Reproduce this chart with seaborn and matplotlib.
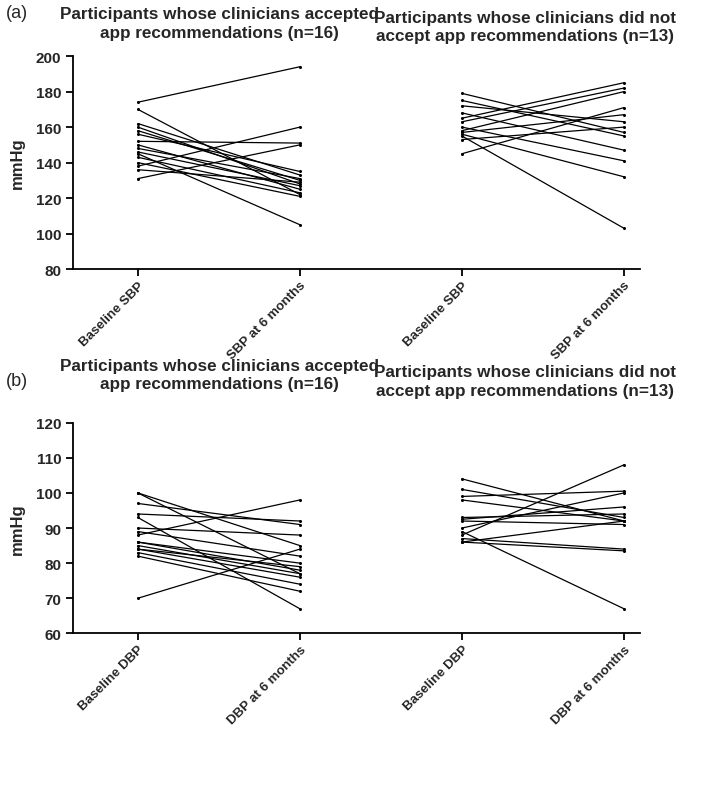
import pandas as pd
import seaborn as sns
import matplotlib.pyplot as plt

# SBP, clinicians accepted app recommendations (n=16)
sbp_acc_base = [174, 170, 131, 138, 145, 162, 160, 158, 156, 152, 150, 148, 146, 143, 140, 136]
sbp_acc_6m = [194, 122, 150, 160, 105, 133, 128, 130, 135, 151, 125, 131, 127, 123, 121, 129]
# SBP, clinicians did not accept (n=13)
sbp_rej_base = [145, 155, 179, 175, 172, 168, 165, 163, 160, 158, 157, 156, 153]
sbp_rej_6m = [171, 103, 157, 155, 163, 147, 185, 182, 141, 180, 167, 132, 160]

# DBP, accepted (n=16)
dbp_acc_base = [70, 100, 88, 97, 94, 93, 90, 89, 86, 85, 84, 83, 82, 86, 84, 100]
dbp_acc_6m = [84, 77, 98, 91, 92, 67, 88, 82, 80, 77, 76, 74, 72, 78, 79, 85]
# DBP, not accepted (n=13)
dbp_rej_base = [88, 89, 104, 101, 99, 98, 93, 92.5, 92, 90, 87, 86, 86]
dbp_rej_6m = [108, 67, 92, 93, 100.5, 92, 94, 96, 91, 100, 84, 83.5, 92]

sbp_labels = ['Baseline SBP', 'SBP at 6 months', 'Baseline SBP', 'SBP at 6 months']
dbp_labels = ['Baseline DBP', 'DBP at 6 months', 'Baseline DBP', 'DBP at 6 months']

title_acc = 'Participants whose clinicians accepted\napp recommendations (n=16)'
title_rej = 'Participants whose clinicians did not\naccept app recommendations (n=13)'


def long_table(acc_base, acc_6m, rej_base, rej_6m):
    rows = []
    for i, (b, m) in enumerate(zip(acc_base, acc_6m)):
        rows.append({'id': f'a{i}', 'pos': 0, 'value': b})
        rows.append({'id': f'a{i}', 'pos': 1, 'value': m})
    for i, (b, m) in enumerate(zip(rej_base, rej_6m)):
        rows.append({'id': f'r{i}', 'pos': 2, 'value': b})
        rows.append({'id': f'r{i}', 'pos': 3, 'value': m})
    return pd.DataFrame(rows)


sns.set_style('ticks')
plt.rcParams['font.family'] = ['Liberation Sans', 'DejaVu Sans']
plt.rcParams['font.weight'] = 'bold'

fig = plt.figure(figsize=(7.09, 8.04), dpi=100)
ax_a = fig.add_axes([0.103, 0.664, 0.80, 0.265])
ax_b = fig.add_axes([0.103, 0.211, 0.80, 0.262])

# axes, data, labels, ylim, step, tag, tag y, left title y, right title y
panels = [
    (ax_a, long_table(sbp_acc_base, sbp_acc_6m, sbp_rej_base, sbp_rej_6m), sbp_labels,
     (80, 200), 20, '(a)', 0.983, 0.970, 0.966),
    (ax_b, long_table(dbp_acc_base, dbp_acc_6m, dbp_rej_base, dbp_rej_6m), dbp_labels,
     (60, 120), 10, '(b)', 0.526, 0.533, 0.525),
]

for ax, df, labels, ylim, step, tag, tag_y, tl_y, tr_y in panels:
    sns.lineplot(data=df, x='pos', y='value', units='id', estimator=None,
                 color='black', lw=0.9, marker='o', markersize=2.2,
                 markeredgewidth=0, ax=ax, legend=False)
    ax.set_xlim(-0.4, 3.1)
    ax.set_ylim(*ylim)
    ax.set_yticks(range(ylim[0], ylim[1] + 1, step))
    ax.set_xticks([0, 1, 2, 3])
    ax.set_xticklabels(labels, rotation=45, ha='right', rotation_mode='anchor',
                       fontsize=9.5, fontweight='bold')
    for t in ax.get_yticklabels():
        t.set_fontsize(11)
        t.set_fontweight('bold')
    ax.set_xlabel('')
    ax.set_ylabel('mmHg', fontsize=12, fontweight='bold', labelpad=8)
    sns.despine(ax=ax)
    for s in ['left', 'bottom']:
        ax.spines[s].set_linewidth(1.3)
        ax.spines[s].set_color('black')
    ax.tick_params(width=1.3, length=5, color='black')
    ax.tick_params(axis='x', pad=2)
    fig.text(0.008, tag_y, tag, fontsize=13, fontweight='normal', va='center')
    fig.text(0.31, tl_y, title_acc, fontsize=12.3, fontweight='bold',
             ha='center', va='center', linespacing=1.3)
    fig.text(0.74, tr_y, title_rej, fontsize=12.3, fontweight='bold',
             ha='center', va='center', linespacing=1.3)

fig.savefig('out.png', dpi=100, facecolor='white')
